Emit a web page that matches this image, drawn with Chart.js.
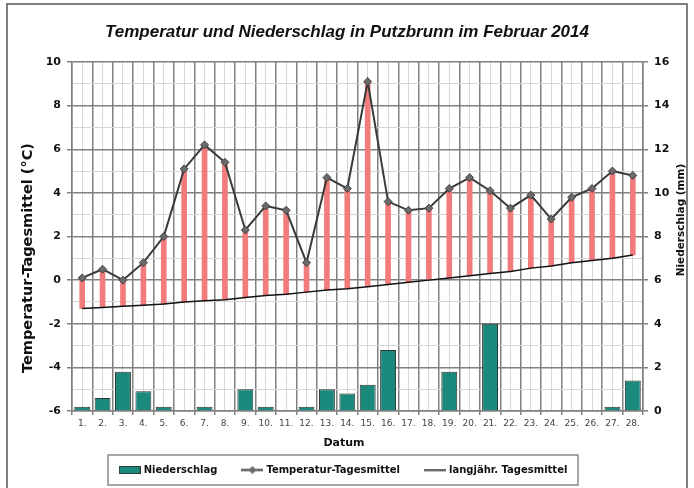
<!DOCTYPE html>
<html>
<head>
<meta charset="utf-8">
<script src="https://cdn.jsdelivr.net/npm/chart.js@4.4.1/dist/chart.umd.min.js"></script>
<style>
  html, body { margin: 0; padding: 0; background: #fff; }
  #wrap { width: 694px; height: 488px; }
</style>
</head>
<body>
<div id="wrap"><canvas id="diagramm" width="694" height="488"></canvas></div>
<script>
// Werte
const tage = ['1.','2.','3.','4.','5.','6.','7.','8.','9.','10.','11.','12.','13.','14.',
              '15.','16.','17.','18.','19.','20.','21.','22.','23.','24.','25.','26.','27.','28.'];
const temperatur = [0.1, 0.5, 0.0, 0.8, 2.0, 5.1, 6.2, 5.4, 2.3, 3.4, 3.2, 0.8, 4.7, 4.2,
                    9.1, 3.6, 3.2, 3.3, 4.2, 4.7, 4.1, 3.3, 3.9, 2.8, 3.8, 4.2, 5.0, 4.8];
const langjaehrig = [-1.3, -1.25, -1.2, -1.15, -1.1, -1.0, -0.95, -0.9, -0.8, -0.7, -0.65, -0.55, -0.45, -0.4,
                     -0.3, -0.2, -0.1, 0.0, 0.1, 0.2, 0.3, 0.4, 0.55, 0.65, 0.8, 0.9, 1.0, 1.15];
const niederschlag = [0.2, 0.6, 1.8, 0.9, 0.2, 0, 0.2, 0, 1.0, 0.2, 0, 0.2, 1.0, 0.8,
                      1.2, 2.8, 0, 0, 1.8, 0, 4.0, 0, 0, 0, 0, 0, 0.2, 1.4];
const tempAchse = [-6, -4, -2, 0, 2, 4, 6, 8, 10];
const mmAchse = [0, 2, 4, 6, 8, 10, 12, 14, 16];

const titel = 'Temperatur und Niederschlag in Putzbrunn im Februar 2014';
const titelLinks = 'Temperatur-Tagesmittel (°C)';
const titelRechts = 'Niederschlag (mm)';
const titelX = 'Datum';

const TEAL = '#1b8a7c', ROT = '#f27c7c', GRID = '#808080', GRID_FEIN = '#d6d6d6';
const FONT = '"DejaVu Sans", Verdana, sans-serif';

// kleine Bildchen fuer die Legende
function icon(w, h, malen) {
    const c = document.createElement('canvas');
    c.width = w; c.height = h;
    malen(c.getContext('2d'));
    return c;
}
const iconBalken = icon(22, 8, g => {
    g.fillStyle = TEAL; g.fillRect(0, 0, 22, 8);
    g.strokeStyle = '#333'; g.lineWidth = 1; g.strokeRect(0.5, 0.5, 21, 7);
});
const iconTemp = icon(22, 9, g => {
    g.strokeStyle = '#3a3a3a'; g.lineWidth = 2;
    g.beginPath(); g.moveTo(0, 4.5); g.lineTo(22, 4.5); g.stroke();
    g.fillStyle = '#6a6a6a';
    g.beginPath(); g.moveTo(11, 0.5); g.lineTo(15, 4.5); g.lineTo(11, 8.5); g.lineTo(7, 4.5); g.closePath(); g.fill();
});
const iconLinie = icon(22, 3, g => {
    g.strokeStyle = '#111'; g.lineWidth = 1.5;
    g.beginPath(); g.moveTo(0, 1.5); g.lineTo(22, 1.5); g.stroke();
});

const extras = {
    id: 'extras',
    afterDraw(chart) {
        const ctx = chart.ctx;
        ctx.save();
        // Rahmen
        ctx.strokeStyle = '#555'; ctx.lineWidth = 1.5;
        ctx.strokeRect(7, 4, 680, 520);

        ctx.fillStyle = '#111';
        ctx.textAlign = 'center'; ctx.textBaseline = 'middle';
        ctx.font = 'bold 14.5px ' + FONT;
        ctx.save(); ctx.translate(28, 258); ctx.rotate(-Math.PI / 2); ctx.fillText(titelLinks, 0, 0); ctx.restore();
        ctx.font = 'bold 10.5px ' + FONT;
        ctx.save(); ctx.translate(681, 220); ctx.rotate(-Math.PI / 2); ctx.fillText(titelRechts, 0, 0); ctx.restore();
        ctx.font = 'bold 11px ' + FONT;
        ctx.fillText(titelX, 344, 443);

        // Legende
        ctx.strokeStyle = '#8a8a8a'; ctx.lineWidth = 1.5;
        ctx.strokeRect(108, 455, 470, 30);
        ctx.font = 'bold 10px ' + FONT;
        ctx.textAlign = 'left';
        const eintraege = [[iconBalken, chart.data.datasets[0].label],
                           [iconTemp, chart.data.datasets[2].label],
                           [iconLinie, chart.data.datasets[3].label]];
        let breite = 0;
        eintraege.forEach(([ic, t]) => breite += 22 + 3 + ctx.measureText(t).width);
        breite += 24 * (eintraege.length - 1);
        let x = 343 - breite / 2;
        eintraege.forEach(([ic, t]) => {
            ctx.drawImage(ic, x, 470 - ic.height / 2);
            x += 25;
            ctx.fillText(t, x, 470);
            x += ctx.measureText(t).width + 24;
        });
        ctx.restore();
    }
};

new Chart(document.getElementById('diagramm'), {
    type: 'bar',
    data: {
        labels: tage,
        datasets: [
            {
                type: 'bar', label: 'Niederschlag', data: niederschlag, yAxisID: 'y1',
                backgroundColor: TEAL, borderColor: '#333', borderWidth: 1, borderSkipped: 'bottom',
                grouped: false, barPercentage: 0.78, categoryPercentage: 1, order: 4
            },
            {
                type: 'bar', label: 'Abweichung', data: temperatur.map((t, i) => [langjaehrig[i], t]), yAxisID: 'y',
                backgroundColor: ROT, borderWidth: 0, grouped: false, barThickness: 5, order: 3
            },
            {
                type: 'line', label: 'Temperatur-Tagesmittel', data: temperatur, yAxisID: 'y',
                borderColor: '#3a3a3a', borderWidth: 2, tension: 0,
                pointStyle: 'rectRot', pointRadius: 4, pointBackgroundColor: '#6a6a6a',
                pointBorderColor: '#444', pointBorderWidth: 1, order: 1
            },
            {
                type: 'line', label: 'langjähr. Tagesmittel', data: langjaehrig, yAxisID: 'y',
                borderColor: '#111', borderWidth: 1.5, pointRadius: 0, tension: 0, order: 2
            }
        ]
    },
    options: {
        responsive: false,
        animation: false,
        layout: { padding: { left: 0, right: 0, top: 0, bottom: 33 } },
        plugins: {
            legend: { display: false },
            tooltip: { enabled: false },
            title: {
                display: true, text: titel, color: '#111',
                font: { family: '"Liberation Sans", Arial, sans-serif', size: 17, weight: 'bold', style: 'italic', lineHeight: 1.2 },
                padding: { top: 22, bottom: 19.6 }
            }
        },
        scales: {
            x: {
                type: 'category', offset: true,
                grid: { offset: true, color: GRID, lineWidth: 1.5, tickLength: 4 },
                border: { color: GRID, width: 1.5 },
                ticks: { color: '#444', font: { family: FONT, size: 9 }, maxRotation: 0, autoSkip: false, padding: 3 },
                afterFit: s => { s.height = 44; }
            },
            xFein: {
                type: 'category', position: 'bottom', offset: true, z: -1,
                grid: { offset: false, color: GRID_FEIN, lineWidth: 1, drawTicks: false },
                border: { display: false },
                ticks: { display: false },
                afterFit: s => { s.height = 0; }
            },
            y: {
                position: 'left', min: tempAchse[0], max: tempAchse[tempAchse.length - 1],
                ticks: {
                    stepSize: 1, color: '#111', padding: 6,
                    font: { family: FONT, size: 11, weight: 'bold' },
                    callback: v => tempAchse.includes(v) ? v : ''
                },
                grid: {
                    color: c => tempAchse.includes(c.tick.value) ? GRID : GRID_FEIN,
                    tickColor: c => tempAchse.includes(c.tick.value) ? GRID : 'rgba(0,0,0,0)',
                    lineWidth: c => tempAchse.includes(c.tick.value) ? 1.5 : 1,
                    tickLength: 5
                },
                border: { color: GRID, width: 1.5 },
                afterFit: s => { s.width = 72; }
            },
            y1: {
                position: 'right', min: mmAchse[0], max: mmAchse[mmAchse.length - 1],
                ticks: { stepSize: 2, color: '#111', padding: 6, font: { family: FONT, size: 11, weight: 'bold' } },
                grid: { drawOnChartArea: false, color: GRID, tickLength: 5, lineWidth: 1.5 },
                border: { color: GRID, width: 1.5 },
                afterFit: s => { s.width = 51; }
            }
        }
    },
    plugins: [extras]
});
</script>
</body>
</html>
